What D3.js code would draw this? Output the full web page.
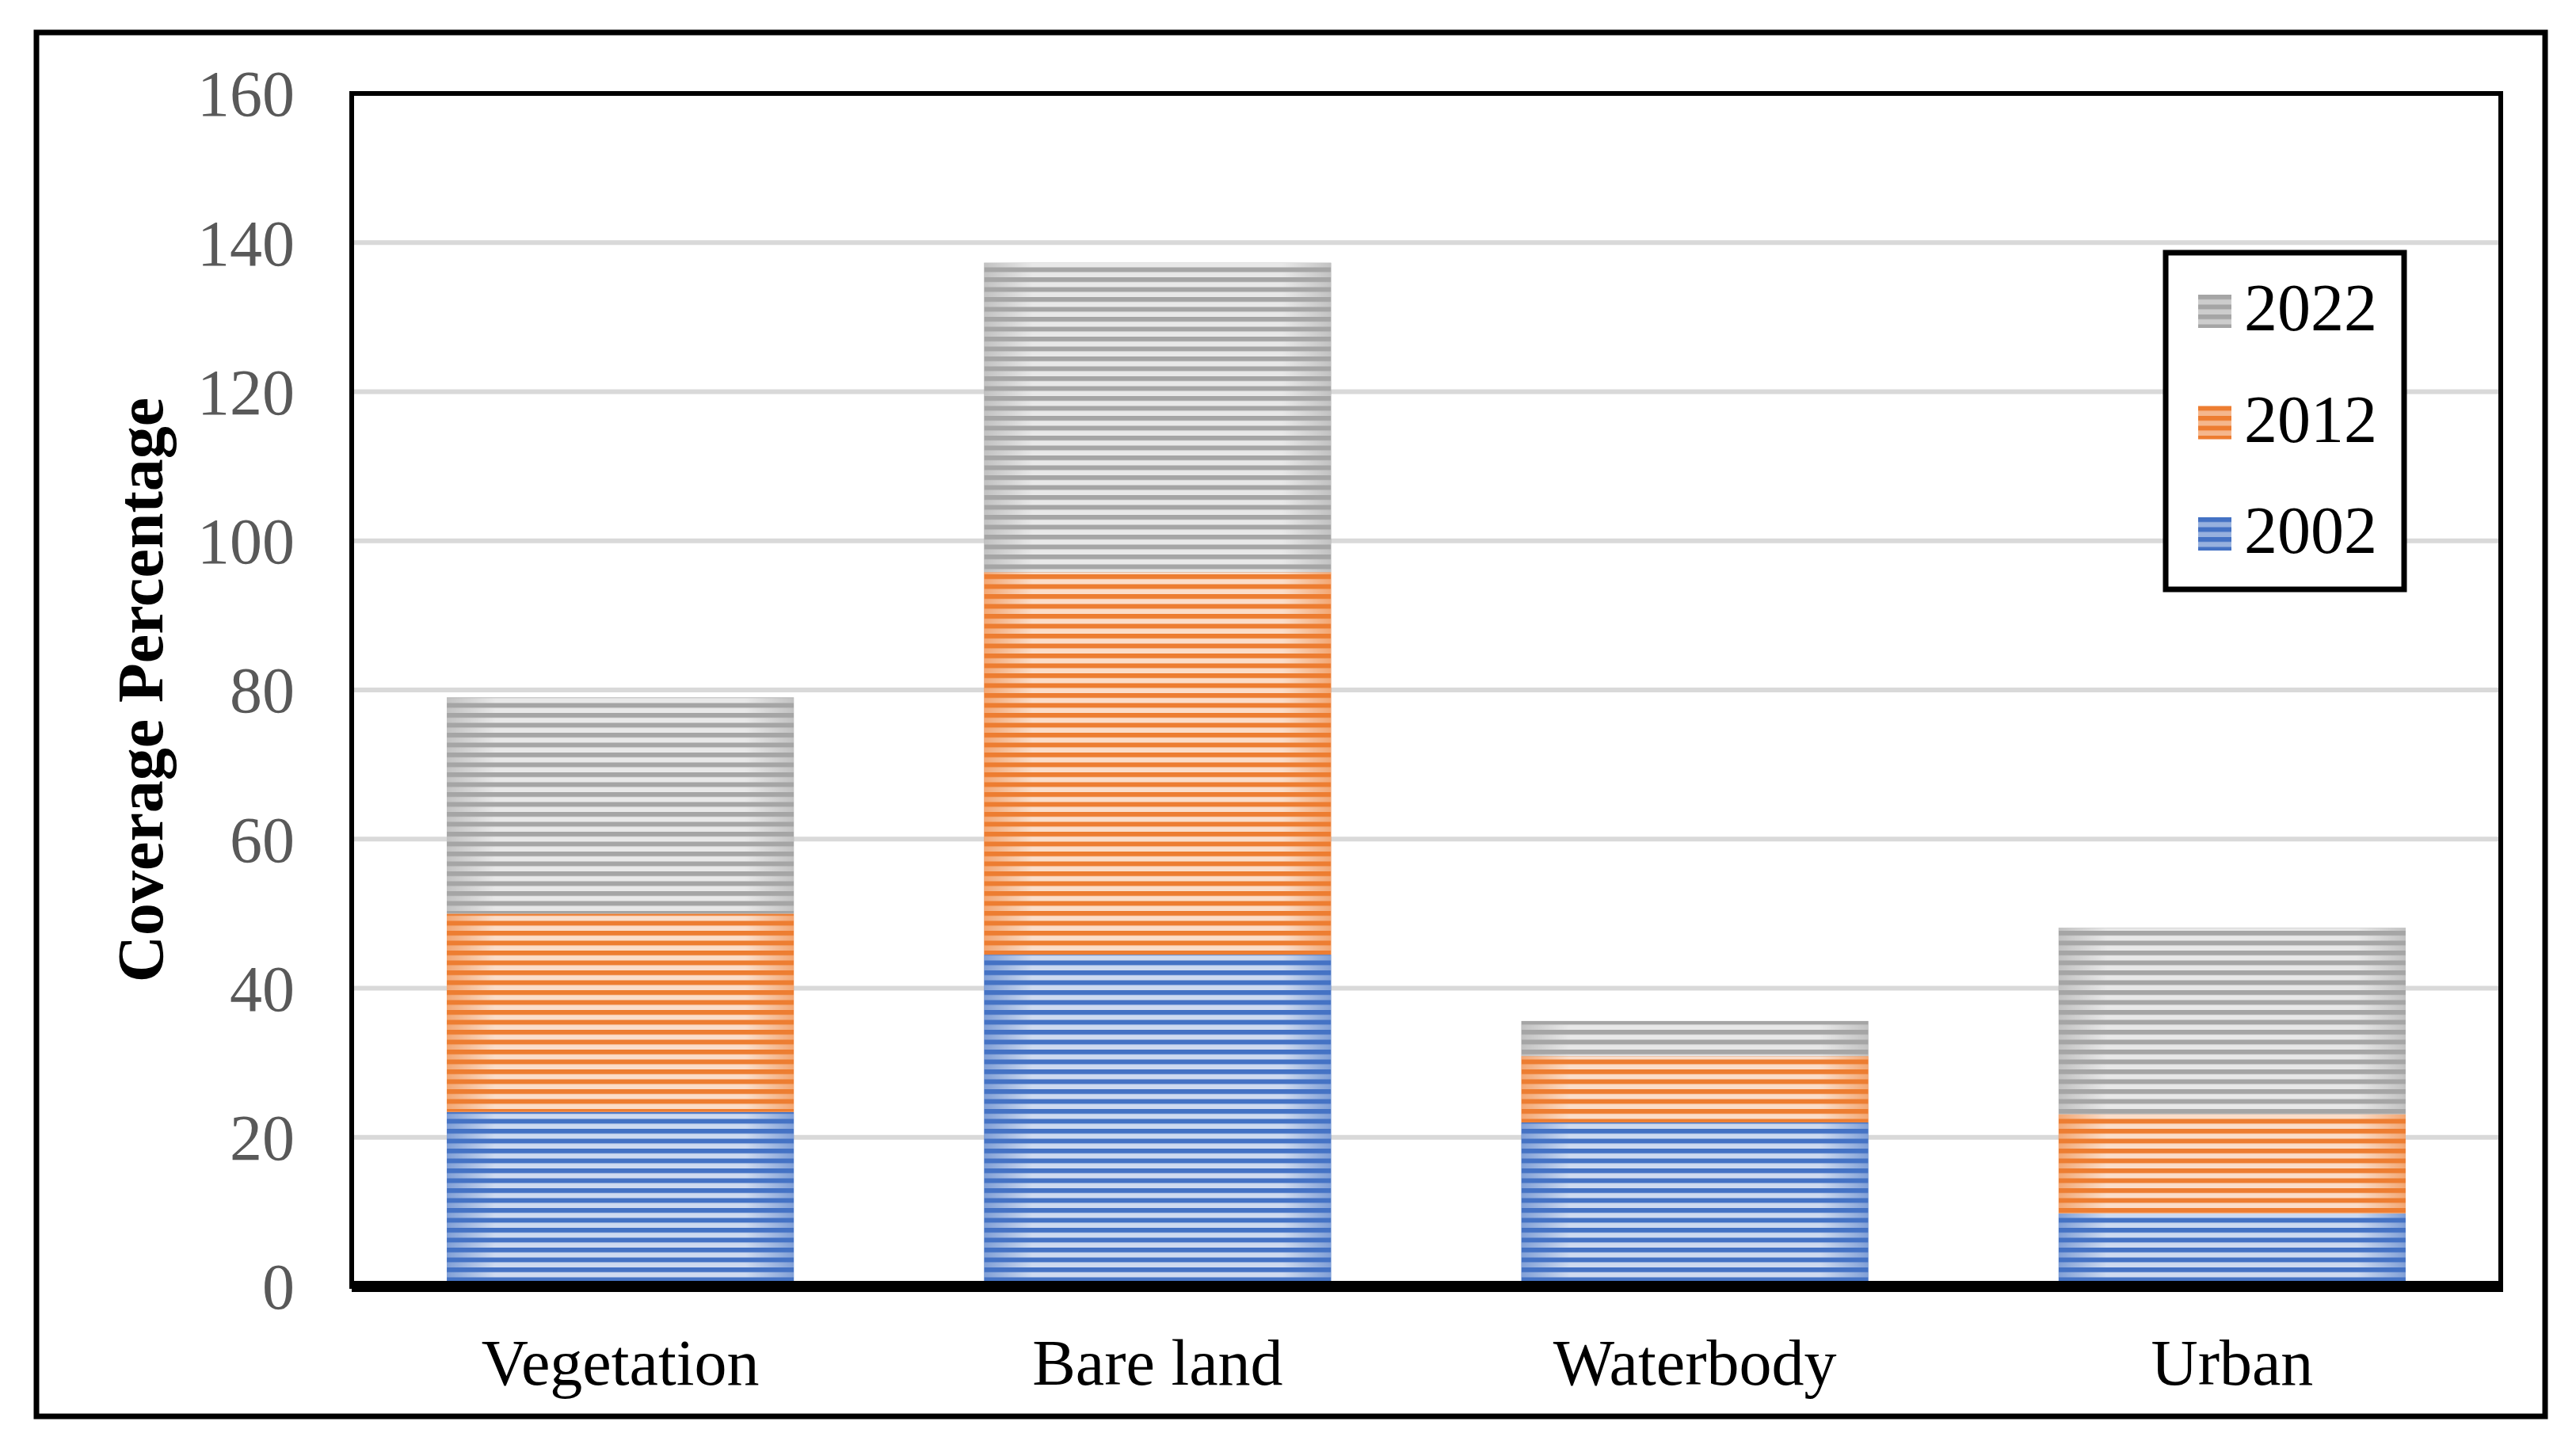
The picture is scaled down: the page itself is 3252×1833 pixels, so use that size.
<!DOCTYPE html>
<html>
<head>
<meta charset="utf-8">
<script src="https://cdn.jsdelivr.net/npm/d3@7"></script>
<style>
  body { margin: 0; background: #fff; }
  svg { display: block; }
</style>
</head>
<body>
<div id="chart"></div>
<script>
// Land cover coverage per class, stacked by year
var categories = ["Vegetation", "Bare land", "Waterbody", "Urban"];
var years = ["2002", "2012", "2022"];
var values2002 = [23.4, 44.5, 22.0, 9.8];
var values2012 = [26.6, 51.3, 8.9, 13.3];
var values2022 = [29.0, 41.5, 4.7, 25.0];
var yTicks = [0, 20, 40, 60, 80, 100, 120, 140, 160];

var colors = { "2002": "#4472c4", "2012": "#ed7d31", "2022": "#a5a5a5" };

var svgWidth = 3252;
var svgHeight = 1833;
var font = "'Liberation Serif', 'Times New Roman', serif";

// Plot area
var plot = { left: 444, right: 3157, top: 118, bottom: 1624 };

var svg = d3.select("#chart")
  .append("svg")
  .attr("width", svgWidth)
  .attr("height", svgHeight);

svg.append("rect")
  .attr("width", svgWidth)
  .attr("height", svgHeight)
  .attr("fill", "#fff");

// build rows for the stack
var rows = categories.map(function(c, i) {
  return { category: c, "2002": values2002[i], "2012": values2012[i], "2022": values2022[i] };
});
var series = d3.stack().keys(years)(rows);

var x = d3.scaleBand()
  .domain(categories)
  .range([plot.left, plot.right])
  .paddingInner(0.354)
  .paddingOuter(0.177);

var y = d3.scaleLinear()
  .domain([0, 160])
  .range([plot.bottom, plot.top]);

// Stripe patterns + soft edge mask
var defs = svg.append("defs");

var stripes = defs.append("pattern")
  .attr("id", "stripes")
  .attr("patternUnits", "userSpaceOnUse")
  .attr("width", 20)
  .attr("height", 12.5);
stripes.append("rect")
  .attr("y", 6)
  .attr("width", 20)
  .attr("height", 6.5)
  .attr("fill", "#fff")
  .attr("fill-opacity", 0.74);

var grad = defs.append("linearGradient")
  .attr("id", "edgeFade")
  .attr("x1", 0).attr("x2", 1).attr("y1", 0).attr("y2", 0);
grad.append("stop").attr("offset", "0%").attr("stop-color", "#707070");
grad.append("stop").attr("offset", "14%").attr("stop-color", "#fff");
grad.append("stop").attr("offset", "86%").attr("stop-color", "#fff");
grad.append("stop").attr("offset", "100%").attr("stop-color", "#707070");

defs.append("mask")
  .attr("id", "fadeMask")
  .attr("maskContentUnits", "objectBoundingBox")
  .append("rect")
  .attr("width", 1)
  .attr("height", 1)
  .attr("fill", "url(#edgeFade)");

// Outer frame
svg.append("rect")
  .attr("x", 46)
  .attr("y", 41)
  .attr("width", 3213 - 46)
  .attr("height", 1788 - 41)
  .attr("fill", "none")
  .attr("stroke", "#000")
  .attr("stroke-width", 7);

// Gridlines
svg.append("g")
  .selectAll("line")
  .data(yTicks.filter(function(d) { return d > 0; }))
  .enter()
  .append("line")
  .attr("x1", plot.left)
  .attr("x2", plot.right)
  .attr("y1", function(d) { return y(d); })
  .attr("y2", function(d) { return y(d); })
  .attr("stroke", "#d9d9d9")
  .attr("stroke-width", 6);

// Bars
var layer = svg.append("g")
  .selectAll("g")
  .data(series)
  .enter()
  .append("g");

layer.selectAll("rect.base")
  .data(function(d) { return d.map(function(p) { return { key: d.key, p: p }; }); })
  .enter()
  .append("rect")
  .attr("class", "base")
  .attr("x", function(d) { return x(d.p.data.category); })
  .attr("y", function(d) { return y(d.p[1]); })
  .attr("width", x.bandwidth())
  .attr("height", function(d) { return y(d.p[0]) - y(d.p[1]); })
  .attr("fill", function(d) { return colors[d.key]; });

layer.selectAll("rect.stripe")
  .data(function(d) { return d; })
  .enter()
  .append("rect")
  .attr("class", "stripe")
  .attr("x", function(d) { return x(d.data.category); })
  .attr("y", function(d) { return y(d[1]); })
  .attr("width", x.bandwidth())
  .attr("height", function(d) { return y(d[0]) - y(d[1]); })
  .attr("fill", "url(#stripes)")
  .attr("mask", "url(#fadeMask)");

// Plot frame
svg.append("rect")
  .attr("x", plot.left)
  .attr("y", plot.top)
  .attr("width", plot.right - plot.left)
  .attr("height", plot.bottom - plot.top)
  .attr("fill", "none")
  .attr("stroke", "#000")
  .attr("stroke-width", 6);

// Thick bottom axis
svg.append("line")
  .attr("x1", plot.left)
  .attr("x2", plot.right + 3)
  .attr("y1", y(0))
  .attr("y2", y(0))
  .attr("stroke", "#000")
  .attr("stroke-width", 14);

// Y tick labels
var leftAxis = d3.axisLeft(y).tickValues(yTicks).tickSize(0).tickPadding(72);
var yAxisG = svg.append("g")
  .attr("transform", "translate(" + plot.left + ",0)")
  .call(leftAxis);
yAxisG.select(".domain").remove();
yAxisG.selectAll("text")
  .attr("font-family", font)
  .attr("font-size", 82)
  .attr("fill", "#595959")
  .attr("dy", "0.34em");

// X category labels
var bottomAxis = d3.axisBottom(x).tickSize(0).tickPadding(0);
var xAxisG = svg.append("g")
  .attr("transform", "translate(0,1748)")
  .call(bottomAxis);
xAxisG.select(".domain").remove();
xAxisG.selectAll("text")
  .attr("font-family", font)
  .attr("font-size", 82)
  .attr("fill", "#000")
  .attr("dy", 0)
  .attr("y", 0);

// Y axis title
svg.append("text")
  .attr("transform", "translate(205," + ((plot.top + plot.bottom) / 2) + ") rotate(-90)")
  .attr("text-anchor", "middle")
  .attr("font-family", font)
  .attr("font-size", 82)
  .attr("font-weight", "bold")
  .attr("fill", "#000")
  .text("Coverage Percentage");

// Legend
var legend = svg.append("g");
legend.append("rect")
  .attr("x", 2734)
  .attr("y", 319)
  .attr("width", 301)
  .attr("height", 425)
  .attr("fill", "#fff")
  .attr("stroke", "#000")
  .attr("stroke-width", 7);

var legendYears = years.slice().reverse();
var item = legend.selectAll("g.item")
  .data(legendYears)
  .enter()
  .append("g")
  .attr("class", "item")
  .attr("transform", function(d, i) { return "translate(2775," + (372 + i * 140.5) + ")"; });

item.append("rect")
  .attr("width", 42)
  .attr("height", 42)
  .attr("fill", function(d) { return colors[d]; });
item.append("rect")
  .attr("width", 42)
  .attr("height", 42)
  .attr("fill", "url(#stripes)")
  .attr("fill-opacity", 0.6);
item.append("text")
  .attr("x", 58)
  .attr("y", 45)
  .attr("font-family", font)
  .attr("font-size", 84)
  .attr("fill", "#000")
  .text(function(d) { return d; });
</script>
</body>
</html>
